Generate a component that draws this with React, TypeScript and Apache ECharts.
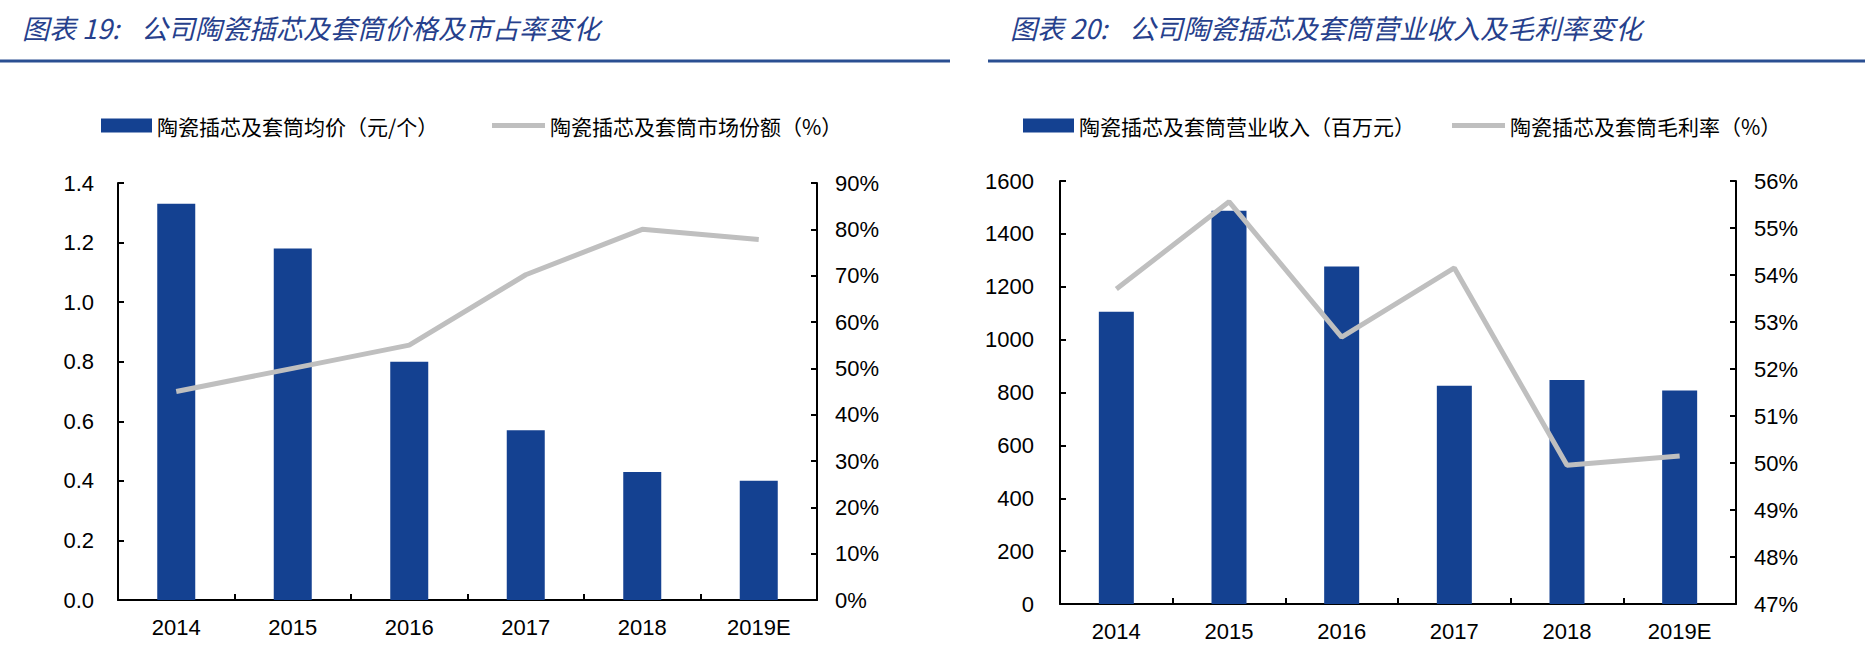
import React, { useEffect, useRef } from 'react';
import * as echarts from 'echarts';

// years on both x axes
const years = ['2014', '2015', '2016', '2017', '2018', '2019E'];

// chart 19: average price (yuan / piece) and market share (%)
const avgPrice = [1.33, 1.18, 0.8, 0.57, 0.43, 0.4];
const marketShare = [45, 50, 55, 70.2, 80, 77.8];

// chart 20: revenue (million yuan) and gross margin (%)
const revenue = [1105, 1487, 1277, 826, 847, 808];
const grossMargin = [53.7, 55.56, 52.68, 54.15, 49.95, 50.15];

const titleLeftNo = '图表 19:';
const titleLeft = '公司陶瓷插芯及套筒价格及市占率变化';
const titleRightNo = '图表 20:';
const titleRight = '公司陶瓷插芯及套筒营业收入及毛利率变化';

const nameAvgPrice = '陶瓷插芯及套筒均价（元/个）';
const nameShare = '陶瓷插芯及套筒市场份额（%）';
const nameRevenue = '陶瓷插芯及套筒营业收入（百万元）';
const nameMargin = '陶瓷插芯及套筒毛利率（%）';

const BLUE = '#144191';
const GREY = '#BFBFBF';
const TITLE_BLUE = '#26408C';
const RULE_BLUE = '#2A4F92';
const FONT = 'Arial, "Liberation Sans", sans-serif';
const CJK = '"Noto Sans CJK SC", sans-serif';

const axisLine = { show: true, lineStyle: { color: '#000', width: 2 } };
const axisTick = { show: true, inside: true, length: 6, lineStyle: { color: '#000', width: 2 } };
const label = { color: '#000', fontSize: 22, fontFamily: FONT };

const titleFont = `italic 27px ${CJK}`;

export default function App() {
    const chartRef = useRef<HTMLDivElement>(null);

    useEffect(() => {
        if (!chartRef.current) return;
        const chart = echarts.init(chartRef.current, null, { renderer: 'svg' });

        const legendText = { color: '#000', fontSize: 21, fontFamily: CJK };
        const barLegend = (left: number, name: string) => ({
            left, top: 110, itemWidth: 51, itemHeight: 14, itemGap: 0,
            icon: 'rect', data: [name], textStyle: legendText, selectedMode: false,
        });
        const lineLegend = (left: number, name: string) => ({
            left, top: 110, itemWidth: 53, itemHeight: 5, itemGap: 0,
            icon: 'rect', data: [name], textStyle: legendText, selectedMode: false,
            itemStyle: { color: GREY },
        });

        const option: echarts.EChartsOption = {
            animation: false,
            backgroundColor: '#fff',
            graphic: [
                { type: 'text', left: 22, top: 14, style: { text: titleLeftNo, fill: TITLE_BLUE, font: titleFont } },
                { type: 'text', left: 141, top: 14, style: { text: titleLeft, fill: TITLE_BLUE, font: titleFont } },
                { type: 'text', left: 1010, top: 14, style: { text: titleRightNo, fill: TITLE_BLUE, font: titleFont } },
                { type: 'text', left: 1129, top: 14, style: { text: titleRight, fill: TITLE_BLUE, font: titleFont } },
                { type: 'rect', shape: { x: 0, y: 59.5, width: 950, height: 3 }, style: { fill: RULE_BLUE } },
                { type: 'rect', shape: { x: 988, y: 59.5, width: 877, height: 3 }, style: { fill: RULE_BLUE } },
            ],
            legend: [
                barLegend(96, nameAvgPrice),
                lineLegend(487, nameShare),
                barLegend(1018, nameRevenue),
                lineLegend(1447, nameMargin),
            ],
            grid: [
                { left: 118, right: 1876 - 817, top: 183, bottom: 70 },
                { left: 1060, right: 1876 - 1736, top: 181, bottom: 66 },
            ],
            xAxis: [0, 1].map((i) => ({
                type: 'category' as const,
                gridIndex: i,
                data: years,
                axisLine,
                axisTick,
                axisLabel: { ...label, margin: 16 },
            })),
            yAxis: [
                {
                    type: 'value', gridIndex: 0, min: 0, max: 1.4, interval: 0.2,
                    axisLine, axisTick, splitLine: { show: false },
                    axisLabel: { ...label, margin: 24, formatter: (v: number) => v.toFixed(1) },
                },
                {
                    type: 'value', gridIndex: 0, position: 'right', min: 0, max: 90, interval: 10,
                    axisLine, axisTick, splitLine: { show: false },
                    axisLabel: { ...label, margin: 18, formatter: (v: number) => `${v}%` },
                },
                {
                    type: 'value', gridIndex: 1, min: 0, max: 1600, interval: 200,
                    axisLine, axisTick, splitLine: { show: false },
                    axisLabel: { ...label, margin: 26, formatter: (v: number) => String(v) },
                },
                {
                    type: 'value', gridIndex: 1, position: 'right', min: 47, max: 56, interval: 1,
                    axisLine, axisTick, splitLine: { show: false },
                    axisLabel: { ...label, margin: 18, formatter: (v: number) => `${v}%` },
                },
            ],
            series: [
                {
                    name: nameAvgPrice, type: 'bar', xAxisIndex: 0, yAxisIndex: 0,
                    data: avgPrice, barWidth: 38, itemStyle: { color: BLUE },
                },
                {
                    name: nameShare, type: 'line', xAxisIndex: 0, yAxisIndex: 1,
                    data: marketShare, showSymbol: false, symbol: 'none',
                    lineStyle: { color: GREY, width: 5 }, itemStyle: { color: GREY },
                },
                {
                    name: nameRevenue, type: 'bar', xAxisIndex: 1, yAxisIndex: 2,
                    data: revenue, barWidth: 35, itemStyle: { color: BLUE },
                },
                {
                    name: nameMargin, type: 'line', xAxisIndex: 1, yAxisIndex: 3,
                    data: grossMargin, showSymbol: false, symbol: 'none',
                    lineStyle: { color: GREY, width: 5 }, itemStyle: { color: GREY },
                },
            ],
        };

        chart.setOption(option);

        return () => {
            chart.dispose();
        };
    }, []);

    return (
        <div
            ref={chartRef}
            style={{ position: 'fixed', left: 0, top: 0, width: 1876, height: 670 }}
        />
    );
}
